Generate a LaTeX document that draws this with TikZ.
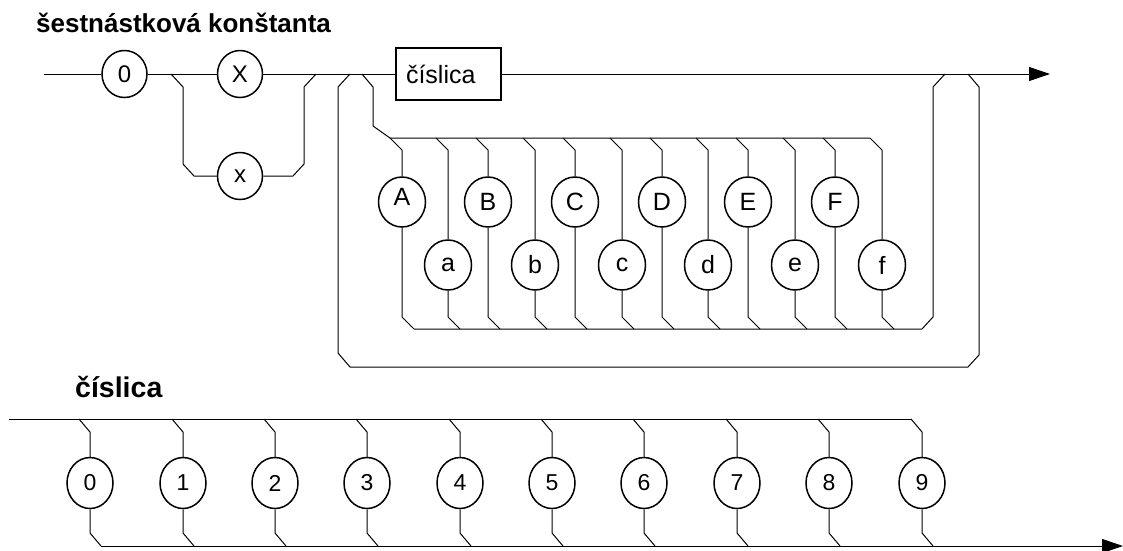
\documentclass[tikz,border=0pt]{standalone}
\usepackage{fontspec}
\setmainfont{Liberation Sans}
\usetikzlibrary{shapes.geometric,arrows.meta}
\begin{document}
\begin{tikzpicture}[x=1pt,y=-1pt,
  conn/.style={line width=1pt, line join=miter},
  arr/.style={conn, -{Triangle[length=21pt,width=14pt]}},
  termA/.style={draw, ellipse, line width=1.5pt, minimum width=45pt, minimum height=47pt, inner sep=0pt, font=\fontsize{24}{28}\selectfont},
  termB/.style={draw, ellipse, line width=1.5pt, minimum width=47pt, minimum height=50pt, inner sep=0pt, font=\fontsize{25}{29}\selectfont},
  termC/.style={draw, ellipse, line width=1.5pt, minimum width=46pt, minimum height=51pt, inner sep=0pt, font=\fontsize{23}{27}\selectfont},
  nonterm/.style={draw, rectangle, line width=1.8pt, minimum height=52pt, inner xsep=10pt, inner ysep=0pt, text width=85pt, align=left, font=\fontsize{25}{29}\selectfont},
  heading/.style={anchor=base west, inner sep=0pt, font=\bfseries\fontsize{26}{30}\selectfont}]
\useasboundingbox (0,0) rectangle (1123,550);

% ---------- titles ----------
\node[heading] (t1) at (36,32) {šestnástková konštanta};
\node[heading, font=\bfseries\fontsize{28.5}{32}\selectfont] (t2) at (75,397) {číslica};

% ---------- top diagram ----------
\node[termA] (c0) at (124.5,74) {0};
\node[termA] (cX) at (240,74) {X};
\node[termA] (cx) at (240,176) {x};
\node[nonterm] (box) at (448.5,74) {číslica};

\coordinate (start) at (44,74);
\coordinate (end) at (1050,74);
\coordinate (jx1) at (171,74);
\coordinate (jx2) at (316,74);
\coordinate (jl1) at (350,74);
\coordinate (jl2) at (968,74);
\coordinate (ji1) at (362,74);
\coordinate (ji2) at (945,74);

\draw[conn] (start) -- (c0.west);
\draw[conn] (c0.east) -- (cX.west);
\draw[conn] (cX.east) -- (box.west);
\draw[arr] (box.east) -- (end);

% X / x alternative
\draw[conn] (jx1) -- (183,87) -- (183,164) -- (194,176) -- (cx.west);
\draw[conn] (cx.east) -- (293,176) -- (304,164) -- (304,87) -- (jx2);

% outer loop back
\draw[conn] (jl2) -- (979,87) -- (979,355) -- (968,367) -- (350,367) -- (338,353) -- (338,87) -- (jl1);

% inner alternatives A..f
\draw[conn] (ji1) -- (373,87) -- (373,126) -- (390,138) -- (870,138);
\foreach \n/\t/\x/\y in {A/{\smash{\raisebox{-3pt}{A}}}/402/202, a/a/448/265, B/B/488/202, b/b/535/265, C/C/575/202, c/c/622/265, D/D/662/202, d/d/708/265, E/E/748/202, e/e/795/265, F/F/835/202, f/f/882/265} {
  \node[termB] (h\n) at (\x,\y) {\t};
  \draw[conn] (\x-12,138) -- (\x,150) -- (h\n.north);
  \draw[conn] (h\n.south) -- (\x,317) -- (\x+12,329);
}
\draw[conn] (414,329) -- (922,329) -- (933,317) -- (933,87) -- (ji2);

% ---------- bottom diagram ----------
\coordinate (s2) at (9,419);
\coordinate (t2e) at (911,419);
\coordinate (b2) at (101,546);
\coordinate (e2) at (1123,546);
\draw[conn] (s2) -- (t2e);
\foreach \d/\x in {0/90,1/183,2/275,3/367,4/460,5/552,6/644,7/737,8/829,9/922} {
  \node[termC] (d\d) at (\x,483) {\d};
  \draw[conn] (\x-11,419) -- (\x,432) -- (d\d.north);
  \draw[conn] (d\d.south) -- (\x,533) -- (\x+11,546);
}
\draw[arr] (b2) -- (e2);
\end{tikzpicture}
\end{document}
